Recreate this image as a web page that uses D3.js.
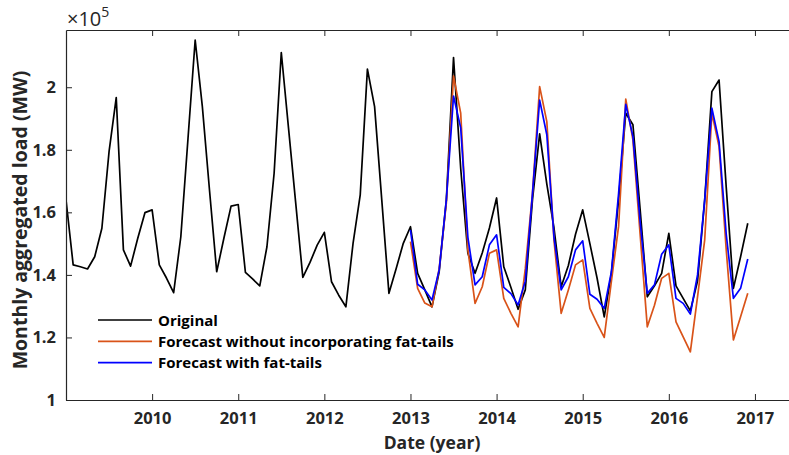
<!DOCTYPE html>
<html><head><meta charset="utf-8">
<script src="https://cdn.jsdelivr.net/npm/d3@7"></script>
<style>body{margin:0;background:#fff}svg{display:block}</style>
</head><body><svg id="c" width="789" height="455"></svg>
<script>
// values in units of 10^5 MW, monthly from Jan 2009
const startYear = 2009;
const original = [
1.640,1.432,1.426,1.419,1.458,1.549,1.794,1.967,1.480,1.428,1.517,1.599,
1.608,1.432,1.390,1.343,1.522,1.836,2.151,1.938,1.670,1.410,1.517,1.620,
1.625,1.408,1.387,1.365,1.490,1.725,2.111,1.871,1.632,1.392,1.440,1.495,
1.536,1.378,1.335,1.298,1.501,1.656,2.058,1.938,1.640,1.341,1.420,1.501,
1.554,1.405,1.352,1.298,1.410,1.640,2.095,1.740,1.469,1.405,1.470,1.550,
1.646,1.426,1.360,1.290,1.352,1.640,1.851,1.690,1.550,1.362,1.430,1.530,
1.608,1.500,1.390,1.266,1.405,1.640,1.917,1.880,1.610,1.330,1.365,1.405,
1.533,1.365,1.325,1.285,1.380,1.640,1.986,2.023,1.680,1.357,1.458,1.565];
const forecastStart = 48; // Jan 2013
const forecastNoFat = [
1.506,1.357,1.310,1.298,1.420,1.630,2.036,1.917,1.480,1.309,1.362,1.469,
1.480,1.325,1.277,1.234,1.420,1.660,2.002,1.890,1.510,1.277,1.352,1.432,
1.448,1.293,1.245,1.200,1.380,1.555,1.962,1.831,1.530,1.234,1.303,1.389,
1.405,1.250,1.202,1.154,1.330,1.512,1.917,1.810,1.480,1.192,1.266,1.341];
const forecastFat = [
1.544,1.370,1.352,1.320,1.416,1.640,1.972,1.870,1.520,1.368,1.394,1.496,
1.528,1.360,1.340,1.304,1.380,1.660,1.959,1.848,1.520,1.352,1.394,1.480,
1.509,1.338,1.322,1.293,1.410,1.660,1.945,1.842,1.570,1.341,1.368,1.466,
1.496,1.325,1.309,1.275,1.400,1.640,1.933,1.826,1.530,1.325,1.357,1.451];
const xTicks = [2010,2011,2012,2013,2014,2015,2016,2017];
const yTicks = [1,1.2,1.4,1.6,1.8,2];
const legendLabels = ["Original","Forecast without incorporating fat-tails","Forecast with fat-tails"];
const colors = ["#000000","#D95319","#0000FF"];

const svg = d3.select("#c");
const L=66, R=798, T=30, B=400;
const x = d3.scaleLinear().domain([2009,2017.5]).range([L,R]);
const y = d3.scaleLinear().domain([1,2.183]).range([B,T]);
const axisCol = "#262626";
const font = "'Open Sans', Lato, sans-serif";

const toPts = (arr, off) => arr.map((v,i)=>({t: startYear + (i+off)/12, v}));
const series = [toPts(original,0), toPts(forecastNoFat,forecastStart), toPts(forecastFat,forecastStart)];

svg.append("defs").append("clipPath").attr("id","clip").append("rect")
  .attr("x",L).attr("y",T).attr("width",R-L).attr("height",B-T);

const line = d3.line().x(d=>x(d.t)).y(d=>y(d.v));
const g = svg.append("g").attr("clip-path","url(#clip)");
series.forEach((s,k)=>{
  g.append("path").datum(s).attr("d",line).attr("fill","none")
   .attr("stroke",colors[k]).attr("stroke-width",1.7).attr("stroke-linejoin","round");
});

// axes (MATLAB style: inward ticks, box)
const tick = 6;
const xb = svg.append("g").attr("transform",`translate(0,${B})`)
  .call(d3.axisBottom(x).tickValues(xTicks).tickFormat(d3.format("d")).tickSizeInner(-tick).tickSizeOuter(0).tickPadding(12));
const xt = svg.append("g").attr("transform",`translate(0,${T})`)
  .call(d3.axisTop(x).tickValues(xTicks).tickFormat("").tickSizeInner(-tick).tickSizeOuter(0));
const yl = svg.append("g").attr("transform",`translate(${L},0)`)
  .call(d3.axisLeft(y).tickValues(yTicks).tickFormat(d3.format("~g")).tickSizeInner(-tick).tickSizeOuter(0).tickPadding(10));
[xb,xt,yl].forEach(a=>{
  a.select(".domain").attr("stroke",axisCol).attr("stroke-width",1.2);
  a.selectAll(".tick line").attr("stroke",axisCol).attr("stroke-width",1);
  a.selectAll("text").attr("fill",axisCol).style("font-family",font).style("font-weight","bold").style("font-size","16.5px");
});

// exponent label
const ex = svg.append("text").attr("x",67).attr("y",26).attr("fill",axisCol)
  .style("font-family",font).style("font-size","20px");
ex.append("tspan").text("\u00d710");
ex.append("tspan").attr("dy",-9).style("font-size","14px").text("5");

// axis labels
svg.append("text").attr("x",(L+R)/2).attr("y",449).attr("text-anchor","middle").attr("fill",axisCol)
  .style("font-family",font).style("font-weight","bold").style("font-size","17.5px").text("Date (year)");
svg.append("text").attr("transform",`translate(26.5,220) rotate(-90)`).attr("text-anchor","middle").attr("fill",axisCol)
  .style("font-family",font).style("font-weight","bold").style("font-size","19.5px").text("Monthly aggregated load (MW)");

// legend
const leg = svg.append("g");
legendLabels.forEach((t,k)=>{
  const yy = 320 + k*21.3;
  leg.append("line").attr("x1",98).attr("x2",152).attr("y1",yy).attr("y2",yy)
    .attr("stroke",colors[k]).attr("stroke-width",1.7);
  leg.append("text").attr("x",158).attr("y",yy+5.5).attr("fill","#000")
    .style("font-family",font).style("font-weight","bold").style("font-size","15px").text(t);
});
</script></body></html>
